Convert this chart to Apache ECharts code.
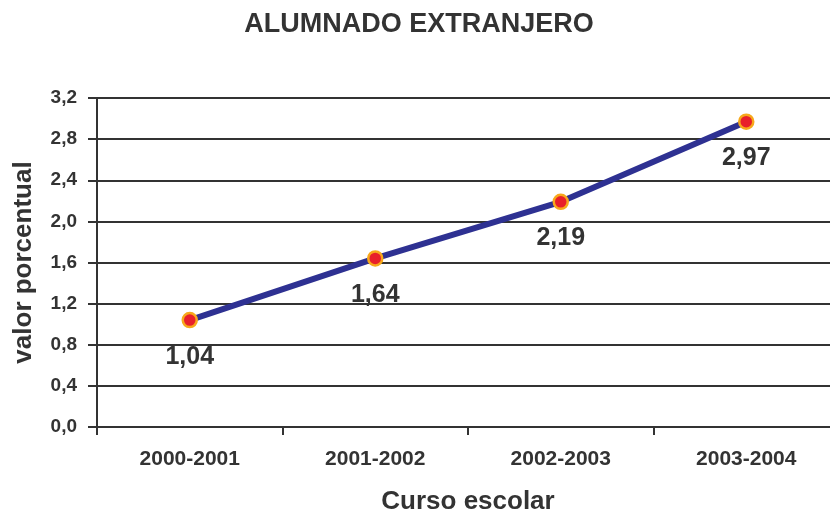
<!DOCTYPE html>
<html>
<head>
<meta charset="utf-8">
<script src="https://cdn.jsdelivr.net/npm/echarts@6/dist/echarts.min.js"></script>
<style>
  html, body { margin: 0; padding: 0; background: #fff; }
  #chart { width: 830px; height: 513px; }
</style>
</head>
<body>
<div id="chart"></div>
<script>
const cursos = ['2000-2001', '2001-2002', '2002-2003', '2003-2004'];
const valores = [1.04, 1.64, 2.19, 2.97];
const ejeY = { min: 0, max: 3.2, interval: 0.4 };

const textColor = '#333333';
const fmt = v => v.toFixed(2).replace('.', ',');

const chart = echarts.init(document.getElementById('chart'));

const option = {
  animation: false,
  textStyle: { fontFamily: 'Liberation Sans, Arial, sans-serif' },
  title: {
    text: 'ALUMNADO EXTRANJERO',
    left: 414,
    top: 6,
    textAlign: 'center',
    textStyle: { fontSize: 27, fontWeight: 'bold', color: textColor }
  },
  // la zona de trazado sigue más allá del borde derecho, como en el original
  grid: { left: 97, right: -9, top: 98, bottom: 86, containLabel: false, outerBoundsMode: 'none' },
  xAxis: {
    type: 'category',
    data: cursos,
    boundaryGap: true,
    name: 'Curso escolar',
    nameLocation: 'middle',
    nameGap: 62,
    nameTextStyle: { fontSize: 26, fontWeight: 'bold', color: textColor },
    axisLine: { lineStyle: { color: textColor, width: 2 } },
    axisTick: { show: true, length: 8, lineStyle: { color: textColor, width: 2 } },
    axisLabel: { fontSize: 21, fontWeight: 'bold', color: textColor, margin: 22 }
  },
  yAxis: {
    type: 'value',
    min: ejeY.min,
    max: ejeY.max,
    interval: ejeY.interval,
    name: 'valor porcentual',
    nameLocation: 'middle',
    nameGap: 60,
    nameTextStyle: { fontSize: 26, fontWeight: 'bold', color: textColor },
    axisLine: { show: true, lineStyle: { color: textColor, width: 2 } },
    axisTick: { show: true, length: 9, lineStyle: { color: textColor, width: 2 } },
    axisLabel: {
      fontSize: 19, fontWeight: 'bold', color: textColor, margin: 20,
      formatter: v => v.toFixed(1).replace('.', ',')
    },
    splitLine: { show: true, lineStyle: { color: textColor, width: 2 } }
  },
  series: [{
    type: 'line',
    data: valores,
    symbol: 'circle',
    symbolSize: 14,
    lineStyle: { color: '#2e3192', width: 6 },
    itemStyle: { color: '#e8202a', borderColor: '#f7a81b', borderWidth: 2.5 },
    label: {
      show: true,
      position: 'bottom',
      distance: 16,
      fontSize: 25,
      fontWeight: 'bold',
      color: textColor,
      formatter: p => fmt(p.value)
    }
  }]
};

chart.setOption(option);
</script>
</body>
</html>
